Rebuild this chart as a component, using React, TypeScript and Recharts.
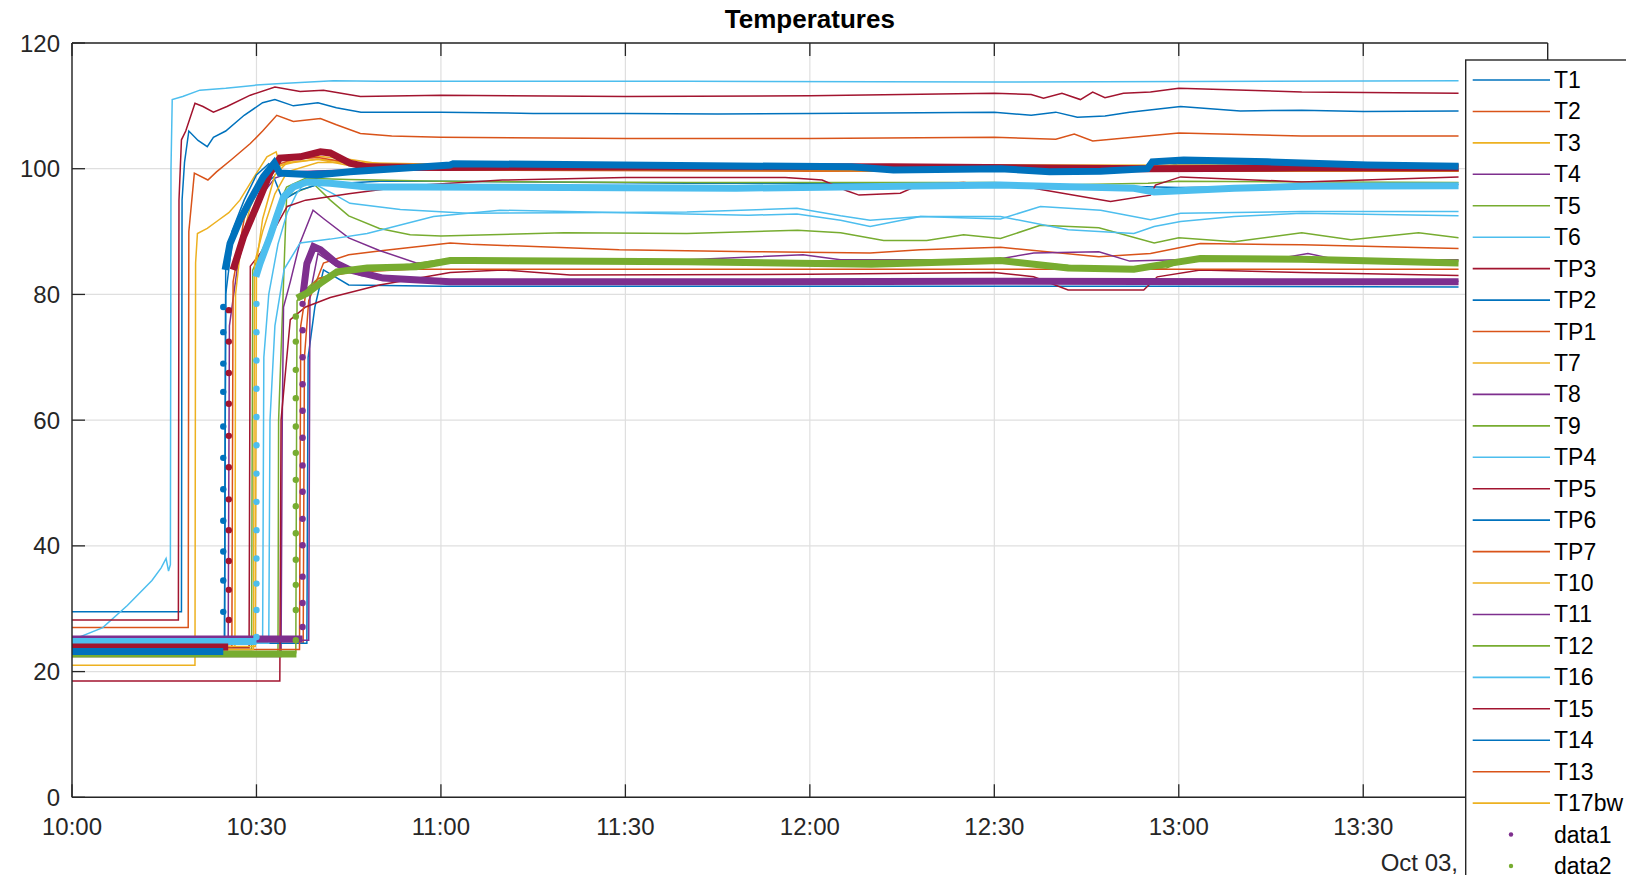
import { LineChart, Line, XAxis, YAxis, CartesianGrid, ReferenceLine } from 'recharts';

// minutes after 10:00 -> temperature
type Pt = [number, number | null];

const T1: Pt[] = [[0, 29.5], [17.8, 29.5], [17.9, 95], [18.3, 101], [19, 106], [20.5, 104.5], [22, 103.5], [23, 105], [25, 106], [28, 108.5], [31, 110.5], [33, 111], [36, 110], [40, 110.5], [43, 109.7], [47, 109], [60, 109], [75, 108.8], [90, 108.8], [105, 108.7], [120, 108.8], [150, 109], [156, 108.5], [160, 109], [163.5, 108.2], [168, 108.4], [172, 109], [180.3, 109.9], [190, 109.2], [200, 109.3], [210, 109.1], [225.5, 109.2]];
const T2: Pt[] = [[0, 27], [18.9, 27], [19, 90], [19.9, 99.3], [22.1, 98.2], [23.5, 99.5], [26, 101.5], [29, 104], [31, 106], [33.3, 108.5], [36, 107.5], [40.4, 108], [43, 107], [46.9, 105.6], [52, 105.2], [60, 105], [90, 104.8], [120, 104.8], [150, 105], [160, 104.7], [163, 105.5], [166, 104.4], [180, 105.7], [200, 105.2], [225.5, 105.2]];
const T3: Pt[] = [[0, 21], [20, 21], [20.1, 85], [20.4, 89.7], [22, 90.5], [23.8, 91.8], [25.5, 93], [27.3, 95], [29.5, 98.5], [31.7, 101.9], [33.2, 102.7], [33.8, 100.5], [36, 101], [40, 101.5], [45, 101], [50, 100.5], [60, 100.3], [90, 100.2], [120, 100], [150, 100], [165, 99.7], [180, 100.2], [200, 99.8], [225.5, 99.7]];
const T4: Pt[] = [[0, 24.5], [25.4, 24.5], [25.6, 75], [27, 85], [29, 92], [31, 96], [33, 98.5], [36, 99.5], [45, 99.8], [60, 99.8], [120, 99.7], [225.5, 99.8]];
const T5: Pt[] = [[0, 23], [33.5, 23], [33.6, 60], [34.9, 95.5], [37, 96.5], [39.5, 97.4], [42, 95], [45, 92.5], [50, 90.5], [55, 89.5], [60, 89.3], [80, 89.8], [100, 89.7], [118, 90.2], [125, 89.8], [132, 88.6], [139, 88.6], [145, 89.5], [151, 88.9], [157.5, 91], [167, 90.6], [176, 88.2], [180, 89], [189, 88.4], [200, 89.8], [208, 88.7], [219, 89.8], [225.5, 89]];
const T6: Pt[] = [[0, 25], [5, 27], [9, 30.5], [13, 34.5], [14.5, 36.5], [15.3, 38], [15.7, 36], [16, 37], [16.1, 100], [16.3, 111], [18, 111.5], [20.8, 112.5], [25, 112.8], [30, 113.3], [33.3, 113.5], [42.5, 114], [50, 113.9], [100, 113.9], [150, 113.8], [225.5, 114]];
const TP3: Pt[] = [[0, 28.2], [17.3, 28.2], [17.4, 95], [17.8, 104.6], [18.5, 106], [20, 110.4], [21.3, 109.9], [23, 109], [25.2, 109.9], [29, 111.7], [33, 113], [37.1, 112.3], [40.9, 112.5], [46.9, 111.5], [60, 111.7], [90, 111.5], [120, 111.6], [150, 112], [156, 111.8], [158, 111.2], [161, 112], [164, 111], [166, 112.2], [168, 111.3], [171, 112], [175.4, 112.2], [180, 112.8], [200, 112.2], [225.5, 112]];
const TP2: Pt[] = [[0, 24], [24.8, 24], [25, 80], [26, 88], [28, 93], [30, 96.5], [32.8, 98.7], [34.3, 95], [37.1, 96.6], [40, 97.5], [50, 98], [60, 98], [100, 97.7], [150, 97.7], [180, 97], [225.5, 97.5]];
const TP1: Pt[] = [[0, 24.5], [37.6, 24.5], [37.8, 70], [38.5, 79], [40.9, 85], [45, 86.3], [50.6, 87], [61.5, 88.2], [64.8, 88], [89, 87.1], [110.8, 86.8], [129.8, 86.6], [138, 87.1], [151, 87.5], [167, 86], [175.4, 86.5], [183.5, 88.1], [200, 87.9], [225.5, 87.3]];
const T7: Pt[] = [[0, 24], [26.5, 24], [26.6, 80], [27.5, 88], [29, 94], [31, 98], [33, 100], [36, 101.5], [40, 102], [45, 101.5], [50, 100.8], [60, 100.5], [120, 100.3], [180, 100.5], [225.5, 100.3]];
const T8: Pt[] = [[0, 22.4], [34, 22.4], [34.2, 60], [34.4, 78], [35.5, 82], [37, 88], [39.2, 93.4], [41, 92], [45, 89], [50, 87], [56, 85], [65, 85.3], [80, 85.5], [100, 85.5], [118.9, 86.3], [125, 85.5], [150, 85.5], [156.4, 86.6], [167, 86.8], [172, 85.3], [180, 85.5], [195, 85.5], [201, 86.5], [206, 85.5], [225.5, 85.5]];
const T9: Pt[] = [[0, 23.5], [29.2, 23.5], [29.4, 83.9], [31.7, 88.7], [33.5, 94], [34.9, 97.1], [38, 98.5], [45, 98.3], [60, 98], [100, 97.8], [150, 97.8], [160, 97.4], [175, 97.7], [180, 98], [225.5, 97.8]];
const TP4: Pt[] = [[0, 24.8], [31, 24.8], [31.2, 70], [32, 80], [33.5, 88], [35, 93], [36.5, 96], [38.2, 98.2], [42.5, 96], [45.2, 94.5], [53.4, 93.5], [64.3, 92.9], [80, 93], [100, 93.1], [117.9, 93.7], [125, 92.5], [129.8, 91.8], [138, 92.4], [151, 92], [157.5, 94], [167.3, 93.4], [175.4, 91.9], [180.3, 92.9], [200, 93.2], [225.5, 93.2]];
const TP5: Pt[] = [[0, 23.8], [28.8, 23.8], [29, 84.5], [31, 87], [33, 90.5], [35, 94], [38, 95], [45, 96], [55, 97.3], [70, 98.2], [90, 98.6], [116, 98.6], [122, 98.2], [126, 96.5], [128, 95.8], [134.7, 96.1], [138, 97.5], [145, 97.8], [156.4, 96.9], [168.9, 94.8], [175.4, 95.8], [176.2, 97.4], [180.3, 98.7], [200, 97.9], [225.5, 98.7]];
const TP6: Pt[] = [[0, 24.5], [38.2, 24.5], [38.4, 70], [39.5, 78], [40.9, 83.9], [45, 81.5], [60, 81.3], [120, 81.3], [180, 81.3], [225.5, 81.2]];
const TP7: Pt[] = [[0, 24], [26, 24], [26.2, 82], [28, 92], [30, 97], [33, 100.5], [36, 101.5], [40, 101.8], [45, 101], [60, 99.8], [120, 99.6], [180, 99.7], [225.5, 99.6]];
const T10: Pt[] = [[0, 24], [29.8, 24], [30, 85], [31, 92], [33, 99], [35, 101], [40, 101.5], [45, 100.5], [60, 99.8], [120, 99.7], [180, 99.6], [225.5, 99.6]];
const T11: Pt[] = [[0, 25], [38.5, 25], [38.7, 80], [40, 86.5], [43, 84.5], [47, 83], [55, 82.3], [90, 82.2], [225.5, 82.1]];
const T12: Pt[] = [[0, 23], [36.4, 23], [36.6, 79], [38, 80.8], [40, 82.5], [45, 84], [55, 84.8], [60, 85.5], [100, 85.2], [150, 85.5], [170, 84], [178, 84.2], [182, 85.8], [225.5, 85.3]];
const T16: Pt[] = [[0, 24.5], [32, 24.5], [32.2, 60], [33, 75], [34.5, 84], [37.1, 88.2], [42, 88.8], [48, 89.7], [58.8, 92.4], [69.6, 93.4], [90, 93], [110, 92.6], [117.9, 92.8], [125, 91.8], [129.8, 90.8], [138, 92.4], [151, 92.4], [162, 90.3], [172.7, 89.7], [176, 90.8], [180.3, 91.6], [189, 92.4], [200, 92.9], [225.5, 92.5]];
const T15: Pt[] = [[0, 18.5], [33.8, 18.5], [34, 60], [35.5, 76], [38, 78], [42, 79.5], [50, 81.5], [61.5, 83.5], [70, 83.9], [81, 83.1], [120, 83.2], [150, 83.5], [156.4, 82.8], [162, 80.7], [174.3, 80.7], [176.5, 82.8], [183.5, 83.9], [200, 83.5], [225.5, 83]];
const T14: Pt[] = [[0, 23.5], [24.8, 23.5], [25, 85], [26, 90], [28, 95], [30, 99], [32, 100.8], [34, 99.2], [40, 99.6], [60, 100], [150, 100], [165, 99.3], [175, 99.7], [180, 100.8], [225.5, 100.7]];
const T13: Pt[] = [[0, 23.5], [37, 23.5], [37.2, 75], [38, 80], [40, 82.5], [45, 83.5], [55, 84], [120, 84], [225.5, 84]];
const T17bw: Pt[] = [[0, 23.5], [29.5, 23.5], [29.7, 85], [31, 90], [33, 96], [35, 99.5], [40, 101], [45, 101], [60, 100.7], [225.5, 100.5]];

// dotted (thick) series: flat start, dots during the jump, then the run
const data1Flat: Pt[] = [[0, 25.2], [37.5, 25.2]];
const data1Jump = { t: 37.5, v: [27.1, 30.9, 35.1, 40.1, 44.3, 48.6, 52.8, 57.2, 61.5, 65.7, 70, 74.3, 78.5] };
const data1Run: Pt[] = [[37.6, 80.2], [38.2, 84.9], [39.3, 87.6], [40.4, 87.1], [43.1, 84.9], [45.2, 83.9], [50.6, 82.6], [61.5, 82], [100, 82], [150, 82.1], [200, 82], [225.5, 82]];

const data2Flat: Pt[] = [[0, 22.8], [36.5, 22.8]];
const data2Jump = { t: 36.4, v: [25, 29.8, 33.8, 37.8, 42, 46.3, 50.5, 54.8, 59, 63.5, 68, 72.5, 76.5] };
const data2Run: Pt[] = [[36.6, 79.4], [38.2, 80.2], [40.4, 81.8], [43.1, 83.6], [48, 84.2], [56, 84.4], [61.5, 85.4], [65, 85.4], [100, 85.2], [130, 84.8], [151, 85.4], [162, 84.2], [172.7, 84], [178.2, 84.9], [183.5, 85.7], [200, 85.6], [225.5, 85]];

const data3Flat: Pt[] = [[0, 24.8], [30, 24.8]];
const data3Jump = { t: 30, v: [25.5, 29.8, 34, 38, 42.5, 47, 51.5, 56, 60.5, 65, 69.5, 74, 78.5] };
const data3Run: Pt[] = [[29.9, 82.8], [30.6, 85], [32.2, 89.2], [33.3, 92.4], [34.4, 95.5], [36, 97.1], [38.2, 97.9], [42, 97.7], [48, 97.1], [56, 97.1], [108, 96.9], [151, 97.4], [172.7, 96.9], [176, 96.3], [189, 96.9], [200, 97.2], [225.5, 97.3]];

const data4Flat: Pt[] = [[0, 23.9], [25.4, 23.9]];
const data4Jump = { t: 25.5, v: [28.2, 33, 37.6, 42.5, 47.4, 52.5, 57.5, 62.6, 67.5, 72.5, 77.5] };
const data4Run: Pt[] = [[26.2, 83.9], [27.9, 89.2], [30, 94], [32.2, 99.3], [33.8, 101.7], [37.1, 101.9], [40.4, 102.7], [42, 102.5], [45.2, 100.9], [48, 100.3], [60, 100.2], [133, 100.3], [175, 100], [200, 100.1], [225.5, 100.1]];

const data5Flat: Pt[] = [[0, 23.2], [24.6, 23.2]];
const data5Jump = { t: 24.6, v: [29.5, 34.5, 39.1, 44, 49, 54, 59, 64.5, 69, 74, 78] };
const data5Run: Pt[] = [[24.9, 83.9], [25.7, 88.1], [27.3, 91.8], [29, 95], [31.1, 98.7], [32.9, 100.9], [33.8, 99.3], [39.8, 99], [45.2, 99.5], [61.5, 100.6], [62, 100.8], [126.8, 100.3], [133.6, 99.8], [151, 100], [159, 99.5], [167.3, 99.6], [174.9, 100], [175.7, 101.1], [180.8, 101.4], [194.4, 101.1], [210.7, 100.6], [225.5, 100.4]];

const xTicks = [0, 30, 60, 90, 120, 150, 180, 210];
const yTicks = [0, 20, 40, 60, 80, 100, 120];

const C1 = '#0072BD';
const C2 = '#D95319';
const C3 = '#EDB120';
const C4 = '#7E2F8E';
const C5 = '#77AC30';
const C6 = '#4DBEEE';
const C7 = '#A2142F';
const AXIS = '#262626';
const FONT = '"Liberation Sans", Arial, Helvetica, sans-serif';

// plot box in page pixels
const LEFT = 72;
const TOP = 43;
const RIGHT = 1547.7;
const BOTTOM = 797.3;
const W = 1626;
const H = 875;

type Row = { t: number; v: number | null };
const rows = (pts: Pt[]): Row[] => pts.map(([t, v]) => ({ t, v }));

const thin = [
  { name: 'T1', color: C1, pts: T1 },
  { name: 'T2', color: C2, pts: T2 },
  { name: 'T3', color: C3, pts: T3 },
  { name: 'T4', color: C4, pts: T4 },
  { name: 'T5', color: C5, pts: T5 },
  { name: 'T6', color: C6, pts: T6 },
  { name: 'TP3', color: C7, pts: TP3 },
  { name: 'TP2', color: C1, pts: TP2 },
  { name: 'TP1', color: C2, pts: TP1 },
  { name: 'T7', color: C3, pts: T7 },
  { name: 'T8', color: C4, pts: T8 },
  { name: 'T9', color: C5, pts: T9 },
  { name: 'TP4', color: C6, pts: TP4 },
  { name: 'TP5', color: C7, pts: TP5 },
  { name: 'TP6', color: C1, pts: TP6 },
  { name: 'TP7', color: C2, pts: TP7 },
  { name: 'T10', color: C3, pts: T10 },
  { name: 'T11', color: C4, pts: T11 },
  { name: 'T12', color: C5, pts: T12 },
  { name: 'T16', color: C6, pts: T16 },
  { name: 'T15', color: C7, pts: T15 },
  { name: 'T14', color: C1, pts: T14 },
  { name: 'T13', color: C2, pts: T13 },
  { name: 'T17bw', color: C3, pts: T17bw },
];

// join flat part, isolated jump dots and the run, separated by gaps
const dotted = (flat: Pt[], jump: { t: number; v: number[] }, run: Pt[]): Row[] => {
  const out: Pt[] = [...flat, [flat[flat.length - 1][0], null]];
  jump.v.forEach((v) => {
    out.push([jump.t, v]);
    out.push([jump.t, null]);
  });
  return rows([...out, ...run]);
};

const thick = [
  { name: 'data1', color: C4, data: dotted(data1Flat, data1Jump, data1Run) },
  { name: 'data2', color: C5, data: dotted(data2Flat, data2Jump, data2Run) },
  { name: 'data3', color: C6, data: dotted(data3Flat, data3Jump, data3Run) },
  { name: 'data4', color: C7, data: dotted(data4Flat, data4Jump, data4Run) },
  { name: 'data5', color: C1, data: dotted(data5Flat, data5Jump, data5Run) },
];

const legendNames = [...thin.map((s) => s.name), 'data1', 'data2'];
const legendColors = [...thin.map((s) => s.color), C4, C5];

const fmtTime = (m: number) => `${10 + Math.floor(m / 60)}:${String(m % 60).padStart(2, '0')}`;

const XTick = (props: any) => {
  const { x, payload } = props;
  return (
    <g>
      <line x1={x} x2={x} y1={BOTTOM} y2={BOTTOM - 13} stroke={AXIS} strokeWidth={1.3} />
      <line x1={x} x2={x} y1={TOP} y2={TOP + 13} stroke={AXIS} strokeWidth={1.3} />
      <text x={x} y={BOTTOM + 38} textAnchor='middle' fontSize={24} fontFamily={FONT} fill={AXIS}>
        {fmtTime(payload.value)}
      </text>
    </g>
  );
};

const YTick = (props: any) => {
  const { y, payload } = props;
  return (
    <g>
      <line x1={LEFT} x2={LEFT + 13} y1={y} y2={y} stroke={AXIS} strokeWidth={1.3} />
      <text x={LEFT - 12} y={y + 8.5} textAnchor='end' fontSize={24} fontFamily={FONT} fill={AXIS}>
        {payload.value}
      </text>
    </g>
  );
};

const jumpDot = (data: Row[], color: string) => (p: any) => {
  const i = p.index;
  const lone =
    data[i].v !== null &&
    (i === 0 || data[i - 1].v === null) &&
    (i === data.length - 1 || data[i + 1].v === null);
  if (!lone) return <g key={`d${i}`} />;
  return <circle key={`d${i}`} cx={p.cx} cy={p.cy} r={3.2} fill={color} />;
};

export default function App() {
  const legTop = 60;
  const legLeft = 1465.7;
  const step = 31.44;
  return (
    <div style={{ position: 'absolute', left: 0, top: 0, width: W, height: H, overflow: 'hidden', background: '#fff' }}>
      <LineChart
        width={W}
        height={H}
        margin={{ top: TOP, right: W - RIGHT, bottom: 0, left: 0 }}
      >
        <CartesianGrid stroke='#dfdfdf' strokeWidth={1.2} horizontalValues={yTicks} verticalValues={xTicks} />
        <XAxis
          dataKey='t'
          type='number'
          domain={[0, 240]}
          ticks={xTicks}
          interval={0}
          height={H - BOTTOM}
          tickSize={0}
          tickLine={false}
          tick={<XTick />}
          axisLine={{ stroke: AXIS, strokeWidth: 1.4 }}
          allowDataOverflow
        />
        <YAxis
          type='number'
          domain={[0, 120]}
          ticks={yTicks}
          interval={0}
          width={LEFT}
          tickSize={0}
          tickLine={false}
          tick={<YTick />}
          axisLine={{ stroke: AXIS, strokeWidth: 1.4 }}
          allowDataOverflow
        />
        <ReferenceLine y={120} stroke={AXIS} strokeWidth={1.4} />
        <ReferenceLine x={240} stroke={AXIS} strokeWidth={1.4} />
        {thin.map((s) => (
          <Line
            key={s.name}
            data={rows(s.pts)}
            dataKey='v'
            type='linear'
            stroke={s.color}
            strokeWidth={1.5}
            dot={false}
            activeDot={false}
            isAnimationActive={false}
          />
        ))}
        {thick.map((s) => (
          <Line
            key={s.name}
            data={s.data}
            dataKey='v'
            type='linear'
            stroke={s.color}
            strokeWidth={7}
            connectNulls={false}
            dot={jumpDot(s.data, s.color)}
            activeDot={false}
            isAnimationActive={false}
          />
        ))}
      </LineChart>
      <svg width={W} height={H} style={{ position: 'absolute', left: 0, top: 0, pointerEvents: 'none' }}>
        <text x={(LEFT + RIGHT) / 2} y={28} textAnchor='middle' fontSize={26} fontWeight='bold' fontFamily={FONT} fill='#000'>
          Temperatures
        </text>
        <text x={1458} y={871} textAnchor='end' fontSize={24} fontFamily={FONT} fill={AXIS}>
          Oct 03,
        </text>
        <rect x={legLeft} y={legTop} width={240} height={900} fill='#fff' stroke={AXIS} strokeWidth={1.4} />
        {legendNames.map((n, i) => {
          const y = 80 + i * step;
          const isDot = n.startsWith('data');
          return (
            <g key={n}>
              {isDot ? (
                <circle cx={1511} cy={y} r={2.2} fill={legendColors[i]} />
              ) : (
                <line x1={1472.7} x2={1550} y1={y} y2={y} stroke={legendColors[i]} strokeWidth={1.6} />
              )}
              <text x={1554} y={y + 8} fontSize={23} fontFamily={FONT} fill='#000'>
                {n}
              </text>
            </g>
          );
        })}
      </svg>
    </div>
  );
}
